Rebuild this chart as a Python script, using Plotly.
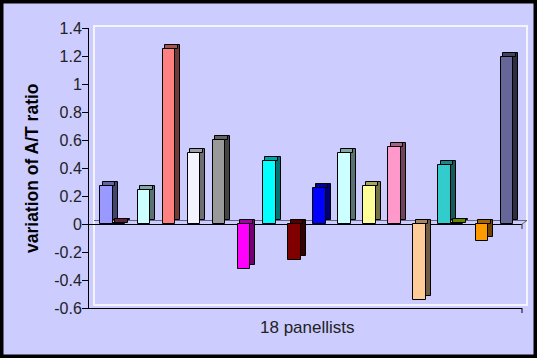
import plotly.graph_objects as go

# Values per series slot in the original workbook (None = blank slot); 18 panellists
series_values = [0.27, 0.005, None, 0.24, None, 1.25, None, 0.51, None, 0.60,
                 None, -0.32, None, 0.45, None, -0.26, None, 0.26, None, 0.51,
                 None, 0.27, None, 0.55, None, -0.54, None, 0.42, 0.005, None,
                 -0.12, None, 1.19]
panellist_colors = ["#9999ff", "#993366", "#ccffff", "#ff8080", "#f4f4ff", "#999999",
                    "#ff00ff", "#00ffff", "#800000", "#0000ff", "#ccffff", "#ffff99",
                    "#ff99cc", "#ffcc99", "#33cccc", "#99cc00", "#ff9900", "#666699"]
y_ticks = [-0.6, -0.4, -0.2, 0, 0.2, 0.4, 0.6, 0.8, 1, 1.2, 1.4]
y_title = "variation of A/T ratio"
x_label = "18 panellists"

BG = "#ccccff"
DX = 0.4      # 3-D depth in slot units
DY = 0.0286   # 3-D depth in value units


def shade(hexcol, f):
    h = hexcol.lstrip("#")
    r, g, b = (int(h[i:i + 2], 16) for i in (0, 2, 4))
    return "#%02x%02x%02x" % (int(r * f), int(g * f), int(b * f))


xs, vals = [], []
for i, v in enumerate(series_values):
    if v is not None:
        xs.append(i)
        vals.append(v)

lo = [min(0, v) for v in vals]
hi = [max(0, v) for v in vals]

fig = go.Figure()
# side face (dark)
fig.add_trace(go.Bar(
    x=xs, y=[h - l for h, l in zip(hi, lo)], base=[l + DY for l in lo],
    width=1.0, offset=-0.5 + DX,
    marker=dict(color=[shade(c, 0.45) for c in panellist_colors],
                line=dict(color="#000000", width=1)),
    hoverinfo="skip", showlegend=False))
# top face (medium)
fig.add_trace(go.Bar(
    x=xs, y=[DY] * len(xs), base=hi,
    width=1.0, offset=-0.5 + DX / 2,
    marker=dict(color=[shade(c, 0.65) for c in panellist_colors],
                line=dict(color="#000000", width=1)),
    hoverinfo="skip", showlegend=False))
# front face
fig.add_trace(go.Bar(
    x=xs, y=vals, width=1.0, offset=-0.5,
    marker=dict(color=panellist_colors, line=dict(color="#000000", width=1)),
    showlegend=False))

W, H = 537, 358
L, R, T, B = 89, 15, 28, 50
pw, ph = W - L - R, H - T - B


def px(x):
    return (x - L) / pw


def py(y):
    return (H - B - y) / ph


shapes = [
    # back wall
    dict(type="rect", xref="paper", yref="paper", x0=px(94), x1=px(527), y0=py(305), y1=py(26),
         line=dict(color="#f4f4ff", width=2), fillcolor="rgba(0,0,0,0)", layer="below"),
    # floor back edge
    dict(type="line", xref="paper", yref="paper", x0=px(94), x1=px(527), y0=py(220.5), y1=py(220.5),
         line=dict(color="#666677", width=1), layer="below"),
    dict(type="line", xref="paper", yref="paper", x0=px(522), x1=px(527), y0=py(224), y1=py(220.5),
         line=dict(color="#666677", width=1), layer="below"),
    dict(type="line", xref="paper", yref="paper", x0=px(522), x1=px(522), y0=py(224), y1=py(229),
         line=dict(color="#333333", width=1)),
    # right tick of category axis
    dict(type="line", xref="paper", yref="paper", x0=px(522), x1=px(522), y0=py(308), y1=py(313),
         line=dict(color="#000000", width=1)),
    # outer black frame
    dict(type="rect", xref="paper", yref="paper", x0=px(0), x1=px(W), y0=py(H), y1=py(0),
         line=dict(color="#000000", width=7), fillcolor="rgba(0,0,0,0)"),
]

annotations = [
    dict(text=y_title, xref="paper", yref="paper", x=px(32), y=py(168), textangle=-90,
         showarrow=False, xanchor="center", yanchor="middle",
         font=dict(size=17.5, color="#000000", family="Liberation Sans, Arial, sans-serif",
                   weight="bold")),
    dict(text=x_label, xref="paper", yref="paper", x=px(307), y=py(327),
         showarrow=False, xanchor="center", yanchor="middle",
         font=dict(size=17, color="#222222", family="Liberation Sans, Arial, sans-serif")),
]

fig.update_layout(
    width=W, height=H,
    margin=dict(l=L, r=R, t=T, b=B, autoexpand=False),
    paper_bgcolor=BG, plot_bgcolor=BG,
    barmode="overlay", bargap=0,
    font=dict(family="Liberation Sans, Arial, sans-serif", color="#222222", size=16),
    shapes=shapes, annotations=annotations,
    xaxis=dict(range=[-1.39, 33.18], showticklabels=False, ticks="", showgrid=False,
               zeroline=False, showline=True, linecolor="#000000", linewidth=1,
               automargin=False),
    yaxis=dict(range=[-0.6, 1.4], tickvals=y_ticks, ticktext=[f"{t:g}" for t in y_ticks],
               ticks="outside", ticklen=6, tickcolor="#000000", showgrid=False,
               zeroline=True, zerolinecolor="#000000", zerolinewidth=1,
               showline=True, linecolor="#000000", linewidth=1, automargin=False,
               ticklabelstandoff=-3),
)

fig.write_html("out.html", post_script="document.body.style.margin='0';",
               config={"displayModeBar": False})
